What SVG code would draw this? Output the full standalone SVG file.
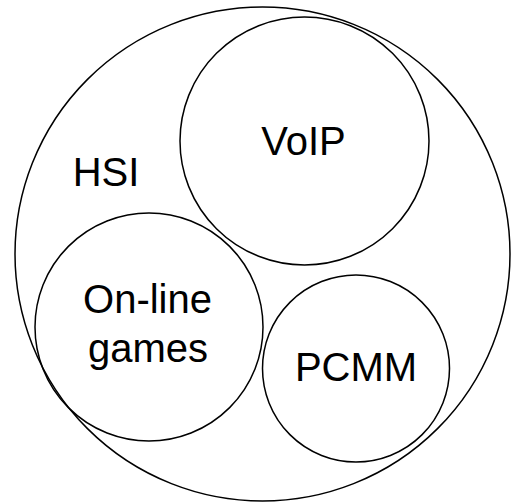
<svg xmlns="http://www.w3.org/2000/svg" width="511" height="504" viewBox="0 0 511 504">
<style>
.c{fill:none;stroke:#000;stroke-width:1.5}
.t{font-family:"Liberation Sans",Arial,sans-serif;font-size:40px;fill:#000;text-anchor:middle}
</style>
<rect width="511" height="504" fill="#fff"/>
<g id="hsi">
<ellipse class="c" cx="262.5" cy="254" rx="247.5" ry="247"/>
<text class="t" x="106" y="186">HSI</text>
</g>
<g id="voip">
<ellipse class="c" cx="304.5" cy="141" rx="124.5" ry="124"/>
<text class="t" x="303.5" y="155">VoIP</text>
</g>
<g id="games">
<ellipse class="c" cx="149" cy="327" rx="114" ry="114"/>
<text class="t" x="147.5" y="313">On-line</text>
<text class="t" x="148" y="362">games</text>
</g>
<g id="pcmm">
<ellipse class="c" cx="356" cy="368.5" rx="93.5" ry="93.5"/>
<text class="t" x="356" y="381">PCMM</text>
</g>
<g id="connectors"/>
</svg>
